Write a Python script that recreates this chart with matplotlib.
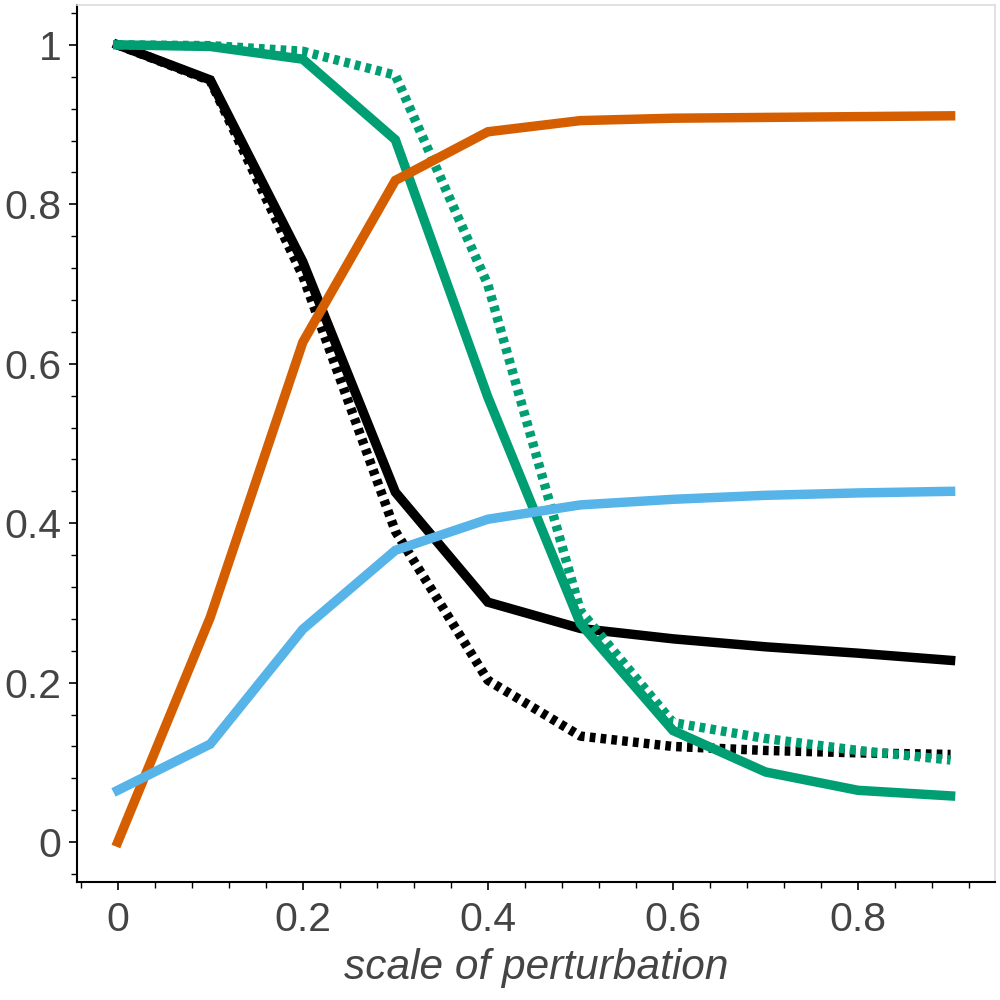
import numpy as np
import matplotlib.pyplot as plt
from matplotlib.ticker import MultipleLocator

# scale of perturbation
x = [0, 0.1, 0.2, 0.3, 0.4, 0.5, 0.6, 0.7, 0.8, 0.9]

# series
black_solid = [1.0, 0.956, 0.728, 0.439, 0.301, 0.268, 0.255, 0.245, 0.237, 0.228]
black_dotted = [1.0, 0.955, 0.71, 0.39, 0.203, 0.133, 0.12, 0.115, 0.112, 0.11]
green_solid = [1.0, 0.998, 0.982, 0.881, 0.558, 0.274, 0.14, 0.088, 0.065, 0.058]
green_dotted = [1.0, 0.999, 0.992, 0.962, 0.699, 0.29, 0.15, 0.13, 0.115, 0.103]
orange = [0.0, 0.282, 0.627, 0.830, 0.891, 0.905, 0.908, 0.909, 0.910, 0.911]
blue = [0.065, 0.123, 0.267, 0.366, 0.405, 0.423, 0.430, 0.435, 0.438, 0.440]

plt.rcParams['font.family'] = ['Liberation Sans', 'DejaVu Sans']

fig = plt.figure(figsize=(10, 10), dpi=100)
ax = fig.add_axes([0.077, 0.118, 0.918, 0.877])

lw = 6.8
dots = (0, (0.6, 0.55))
ax.plot(x, black_solid, color='black', lw=lw, solid_joinstyle='miter')
ax.plot(x, black_dotted, color='black', lw=lw, linestyle=dots)
ax.plot(x, green_solid, color='#009E73', lw=lw, solid_joinstyle='miter')
ax.plot(x, green_dotted, color='#009E73', lw=lw, linestyle=dots)
ax.plot(x, orange, color='#D55E00', lw=lw, solid_joinstyle='miter')
ax.plot(x, blue, color='#56B4E9', lw=lw, solid_joinstyle='miter')

ax.set_xlim(-0.044, 0.948)
ax.set_ylim(-0.05, 1.05)

ax.xaxis.set_major_locator(MultipleLocator(0.2))
ax.xaxis.set_minor_locator(MultipleLocator(0.04))
ax.yaxis.set_major_locator(MultipleLocator(0.2))
ax.yaxis.set_minor_locator(MultipleLocator(0.04))

fmt = lambda v, p: '0' if abs(v) < 1e-9 else ('1' if abs(v - 1) < 1e-9 else f'{v:.1f}')
ax.xaxis.set_major_formatter(plt.FuncFormatter(fmt))
ax.yaxis.set_major_formatter(plt.FuncFormatter(fmt))

ax.tick_params(which='major', direction='out', length=6, width=1.2,
               labelsize=29.5, labelcolor='#444444', pad=8)
ax.tick_params(axis='y', which='major', pad=5)
ax.tick_params(which='minor', direction='out', length=4, width=1.0)

for side in ['left', 'bottom']:
    ax.spines[side].set_linewidth(1.5)
    ax.spines[side].set_color('black')
for side in ['top', 'right']:
    ax.spines[side].set_linewidth(1.2)
    ax.spines[side].set_color('#dddddd')

ax.set_xlabel('scale of perturbation', fontsize=30.5, style='italic',
              color='#444444', labelpad=6)

fig.savefig('out.png', dpi=100)
